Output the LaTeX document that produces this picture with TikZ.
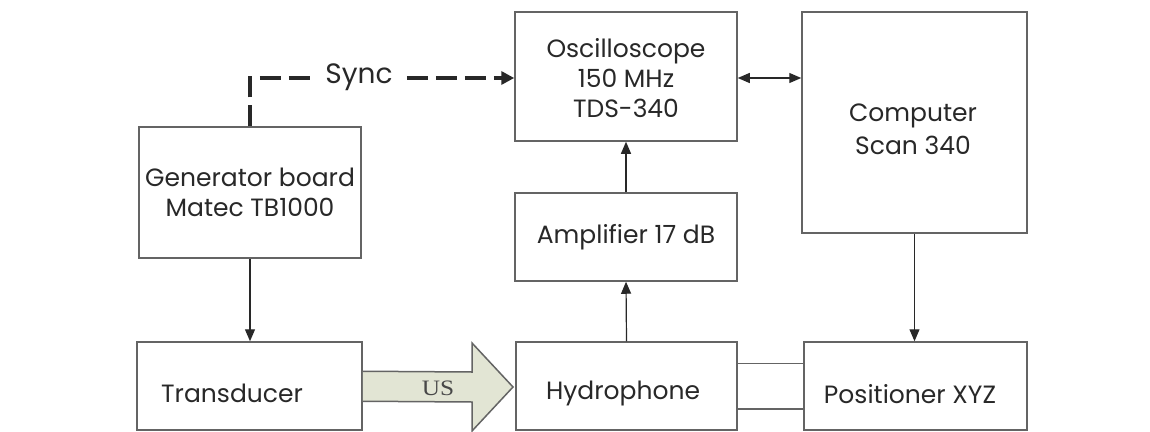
\documentclass[tikz,border=0pt]{standalone}
\usepackage{fontspec}
\setmainfont{Poppins}
\newfontfamily\usfont{Liberation Serif}
\usetikzlibrary{arrows.meta}
\definecolor{boxline}{RGB}{100,100,100}
\definecolor{usfill}{RGB}{226,229,212}
\definecolor{inkc}{RGB}{40,40,40}
\begin{document}
\begin{tikzpicture}[x=1pt,y=-1pt,
  box/.style={draw=boxline,line width=1.5pt,inner sep=0pt,align=center,
    font=\fontsize{25}{30}\selectfont,text=inkc},
  lbl/.style={inner sep=0pt,align=center,font=\fontsize{25}{33}\selectfont,text=inkc},
  conn/.style={draw=inkc,line width=1.2pt,-{Triangle[length=12pt,width=10pt]}},
  dconn/.style={draw=inkc,line width=1.2pt,{Triangle[length=12pt,width=10pt]}-{Triangle[length=12pt,width=10pt]}},
  syncline/.style={draw=inkc,line width=3.5pt,dash pattern=on 21pt off 8pt}]
\useasboundingbox[fill=white] (0,0) rectangle (1150,431);

\node[box,minimum width=222pt,minimum height=131pt] (gen) at (250,192.5) {Generator board\\Matec TB1000};
\node[box,minimum width=222pt,minimum height=129pt] (osc) at (626,76.5) {};
\node[lbl,font=\fontsize{25}{30}\selectfont] (oscT) at (626,78) {Oscilloscope\\150 MHz\\TDS-340};
\node[box,minimum width=225pt,minimum height=221pt] (comp) at (914.5,122.5) {};
\node[lbl] (compT) at (913,129) {Computer\\Scan 340};
\node[box,minimum width=222pt,minimum height=88pt] (amp) at (626,237) {Amplifier 17 dB};
\node[box,minimum width=225pt,minimum height=88pt] (trans) at (249.5,386) {};
\node[lbl,anchor=west] (transT) at (161,393) {Transducer};
\node[box,minimum width=221pt,minimum height=88pt] (hyd) at (626.5,386) {};
\node[lbl] (hydT) at (623,393) {Hydrophone};
\node[box,minimum width=223pt,minimum height=88pt] (pos) at (915.5,386) {};
\node[lbl] (posT) at (910,394) {Positioner XYZ};

% Sync
\node[inner xsep=14pt,inner ysep=0pt,font=\fontsize{28}{28}\selectfont,text=inkc] (sync) at (359,77) {Sync};
\draw[syncline] (gen.north) -- (gen.north |- 0,78) -- (sync.west |- 0,78);
\draw[syncline,-{Triangle[length=13pt,width=13pt]}] (sync.east |- 0,78) -- (osc.west |- 0,78);

% connectors
\draw[conn] (gen.south) -- (gen.south |- trans.north);
\draw[conn] (hyd.north) -- (amp.south);
\draw[conn] (amp.north) -- (osc.south);
\draw[conn] (comp.south) -- (comp.south |- pos.north);
\draw[dconn] ([yshift=-1.5pt]osc.east) -- ([yshift=-1.5pt]osc.east -| comp.west);
\draw[draw=boxline,line width=1.5pt] ([yshift=-22pt]hyd.north east) -- ([yshift=-22pt]hyd.north east -| pos.west);
\draw[draw=boxline,line width=1.5pt] ([yshift=22pt]hyd.south east) -- ([yshift=22pt]hyd.south east -| pos.west);

% US arrow
\draw[draw=boxline,fill=usfill,line width=1.5pt]
  ([yshift=-30pt]trans.north east) -- (472,372) -- (472,343) -- (513,387)
  -- (472,431) -- (472,402) -- ([yshift=-60pt]trans.north east);
\node[font=\usfont\fontsize{22}{22}\selectfont,text=inkc!85,xscale=1.15] (us) at (438,388) {US};
\end{tikzpicture}
\end{document}
